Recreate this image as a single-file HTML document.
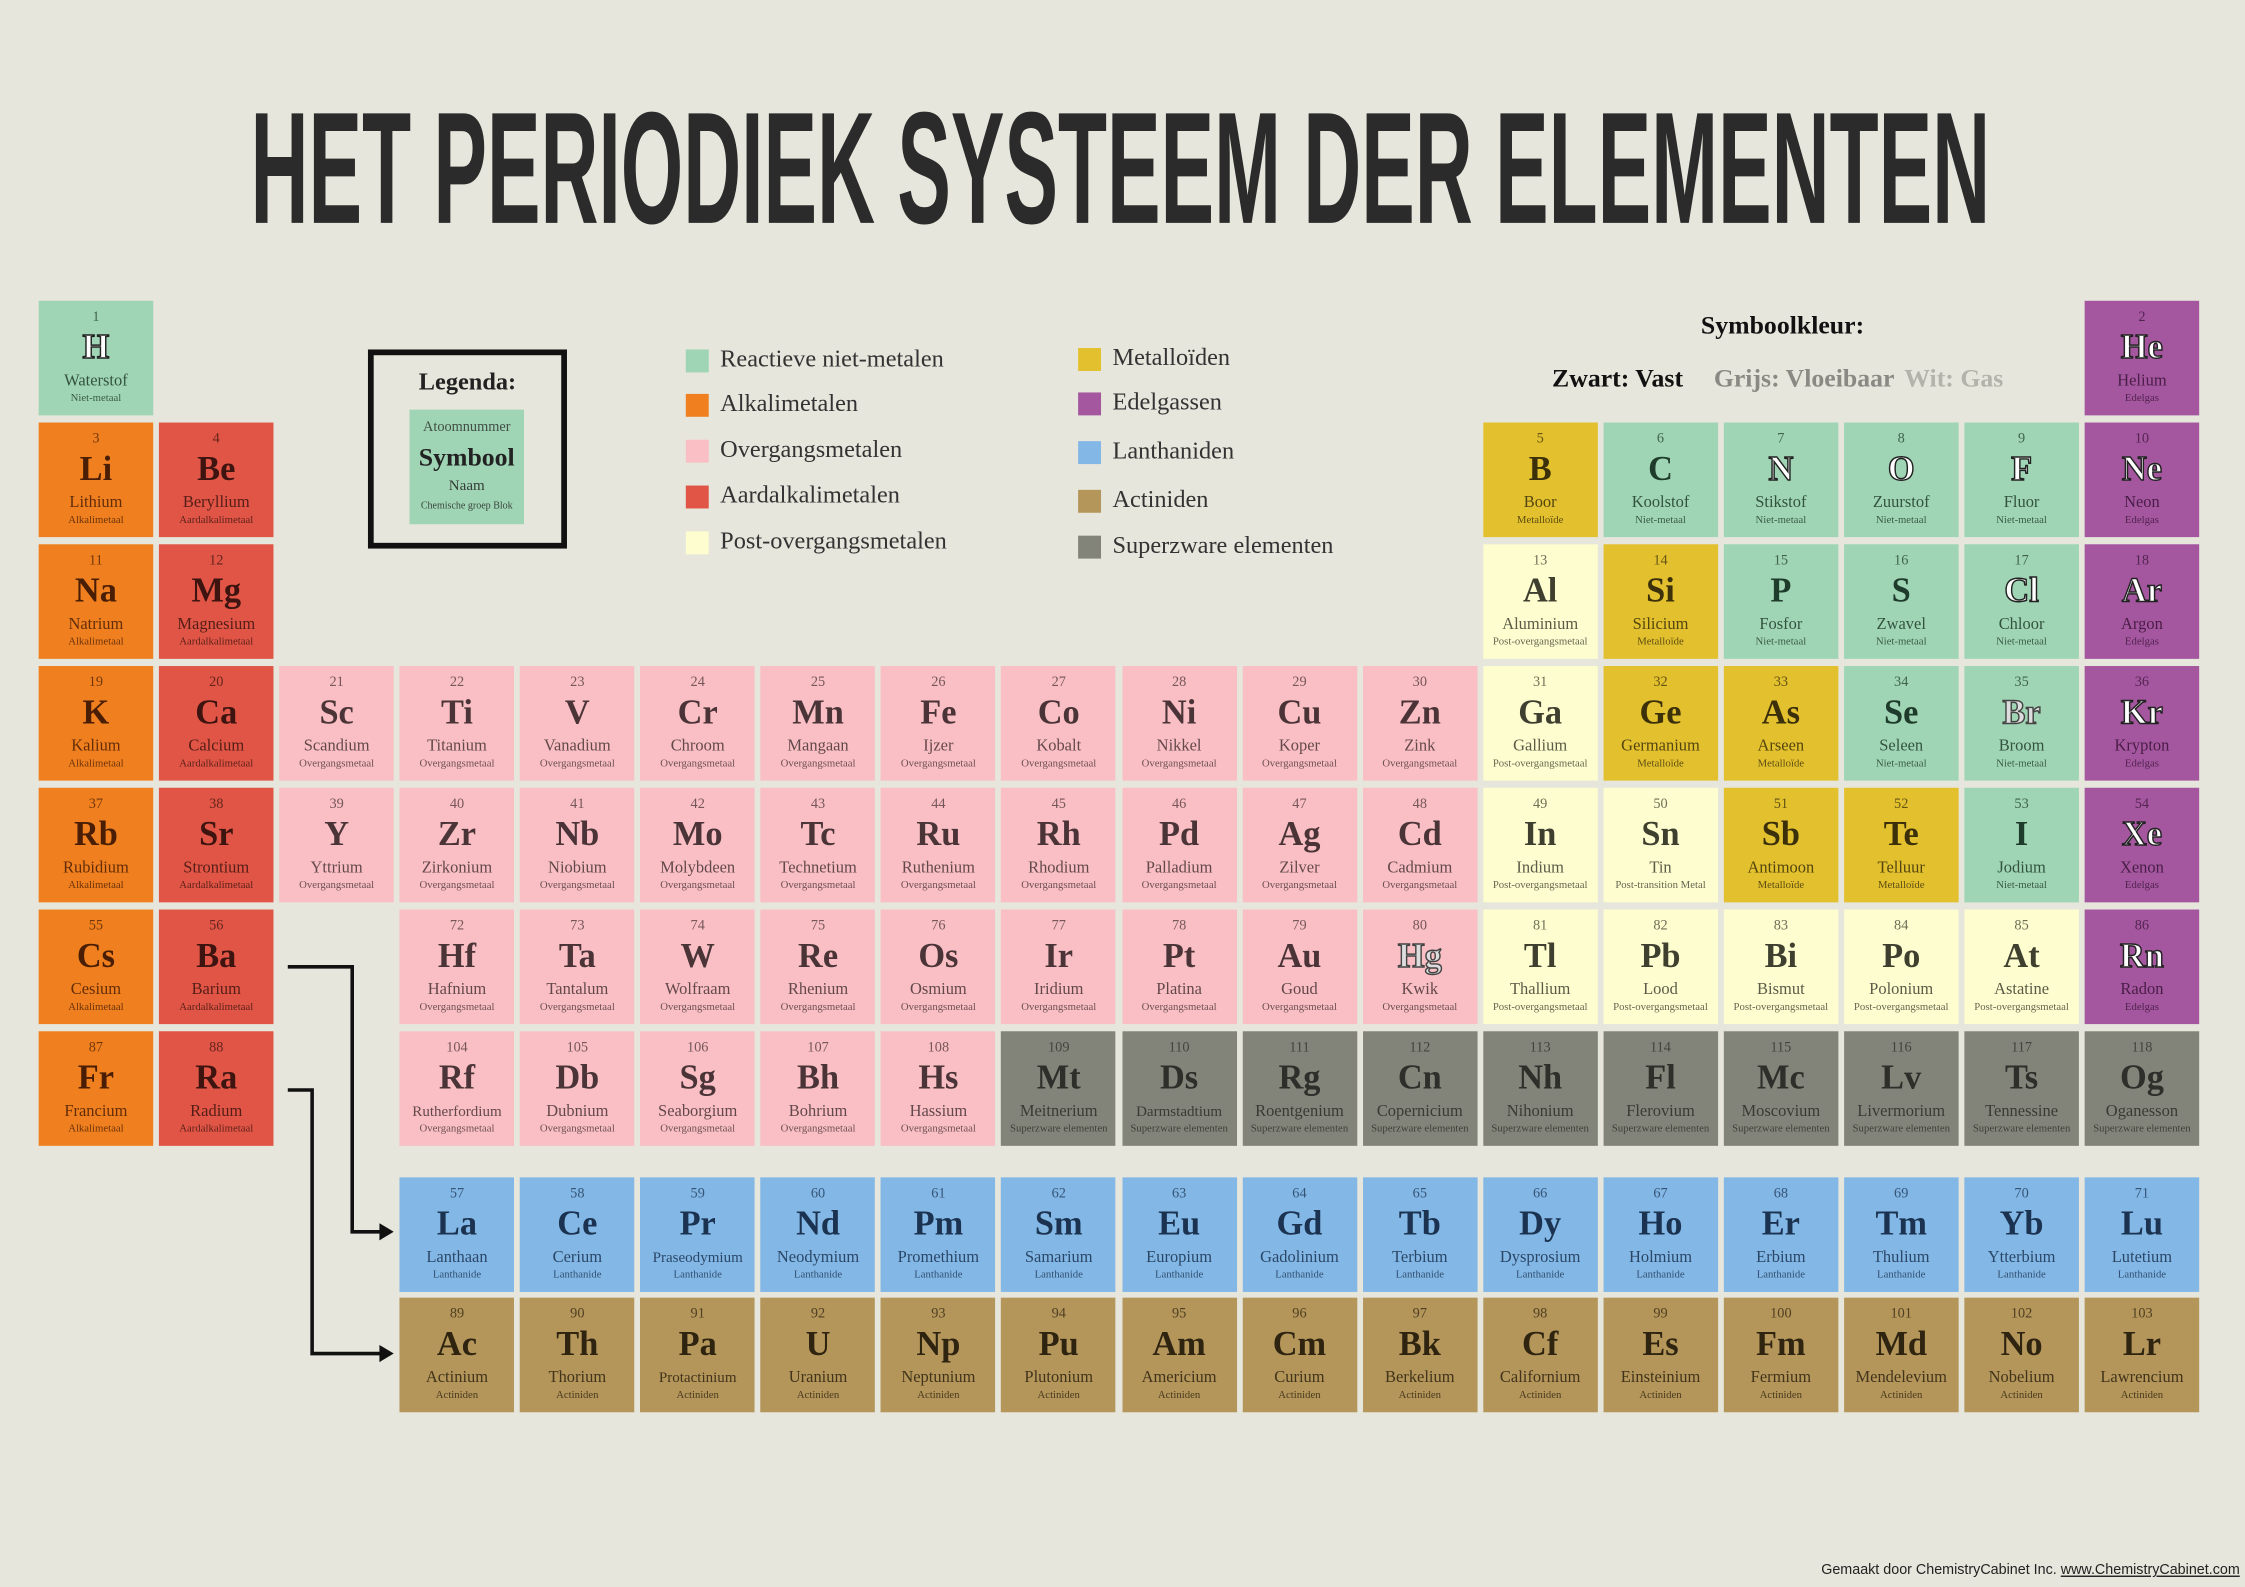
<!DOCTYPE html>
<html><head><meta charset="utf-8">
<style>
html,body{margin:0;padding:0;background:#e6e6dc;}
#root{position:absolute;left:0;top:0;width:1568px;height:1108px;transform-origin:0 0;transform:scale(1.43176,1.43231);background:#e6e6dc;font-family:"Liberation Serif",serif;color:#222;}
.cell{position:absolute;width:80px;height:80px;text-align:center;}
.num{position:absolute;left:0;right:0;top:6px;font-size:10px;opacity:.75;}
.sym{position:absolute;left:0;right:0;top:20px;font-size:24px;font-weight:bold;line-height:26px;}
.nm{position:absolute;left:0;right:0;top:50px;font-size:11.5px;line-height:13px;opacity:.85;white-space:nowrap;}
.gr{position:absolute;left:0;right:0;top:63px;font-size:7.5px;line-height:9px;opacity:.8;white-space:nowrap;}
.gas{color:#fff;-webkit-text-stroke:1px #222;}
.liq{color:#ddd;-webkit-text-stroke:1px #444;}
.leg{position:absolute;font-size:17px;color:#333;}
.sq{position:absolute;width:16px;height:16px;}
</style></head><body>
<div id="root">
<svg style="position:absolute;left:0;top:0" width="1568" height="180">
<text x="175" y="155" textLength="1215" lengthAdjust="spacingAndGlyphs" font-family="Liberation Sans Narrow, Liberation Sans, sans-serif" font-weight="bold" font-size="108" fill="#2b2b2b" transform="translate(0,-4) scale(1,1.03)">HET PERIODIEK SYSTEEM DER ELEMENTEN</text>
</svg>

<div style="position:absolute;left:257px;top:244px;width:131px;height:131px;border:4px solid #111;">
<div style="position:absolute;left:0;right:0;top:9px;text-align:center;font-weight:bold;font-size:17px;">Legenda:</div>
<div class="cell" style="left:25px;top:38px;background:#9fd5b4;">
<div class="num" style="font-size:10px;top:7px">Atoomnummer</div>
<div class="sym" style="font-size:18px;top:20px">Symbool</div>
<div class="nm" style="font-size:10.5px;top:47px">Naam</div>
<div class="gr" style="font-size:7px;top:63px">Chemische groep Blok</div>
</div></div>

<div id="legend"></div>

<div>
<div style="position:absolute;left:1150px;width:190px;top:217px;text-align:center;font-weight:bold;font-size:18px;color:#111;">Symboolkleur:</div>
<div style="position:absolute;left:1084px;top:254px;font-weight:bold;font-size:18px;color:#111;">Zwart: Vast</div>
<div style="position:absolute;left:1197px;top:254px;font-weight:bold;font-size:18px;color:#8a8a84;">Grijs: Vloeibaar</div>
<div style="position:absolute;left:1330px;top:254px;font-weight:bold;font-size:18px;color:#b3b3ab;">Wit: Gas</div>
</div>

<svg style="position:absolute;left:0;top:0" width="1568" height="1108">
<polyline points="201,675 246,675 246,860 266,860" fill="none" stroke="#111" stroke-width="2.5"/>
<polygon points="275,860 265,854 265,866" fill="#111"/>
<polyline points="201,761 218,761 218,945 266,945" fill="none" stroke="#111" stroke-width="2.5"/>
<polygon points="275,945 265,939 265,951" fill="#111"/>
</svg>

<div id="table"></div>

<div style="position:absolute;left:1272px;top:1091px;font-family:'Liberation Sans',sans-serif;font-size:10px;color:#222;">Gemaakt door ChemistryCabinet Inc. <u>www.ChemistryCabinet.com</u></div>
</div>
<script>
const categoryColors={n:"#9fd5b4",a:"#f0801f",e:"#e05545",t:"#f9bfc4",p:"#fdfdcf",m:"#e3c02e",g:"#a4579f",l:"#83b7e6",c:"#b4955a",s:"#838479"};
const categoryGroups={n:"Niet-metaal",a:"Alkalimetaal",e:"Aardalkalimetaal",t:"Overgangsmetaal",p:"Post-overgangsmetaal",m:"Metalloïde",g:"Edelgas",l:"Lanthanide",c:"Actiniden",s:"Superzware elementen"};
const legendLeft=[["n","Reactieve niet-metalen",252],["a","Alkalimetalen",283],["t","Overgangsmetalen",315],["e","Aardalkalimetalen",347],["p","Post-overgangsmetalen",379]];
const legendRight=[["m","Metalloïden",251],["g","Edelgassen",282],["l","Lanthaniden",316],["c","Actiniden",350],["s","Superzware elementen",382]];
// number|symbol|name|category|col|row|state(s/l/g)
const elements=`1|H|Waterstof|n|1|1|g
2|He|Helium|g|18|1|g
3|Li|Lithium|a|1|2|s
4|Be|Beryllium|e|2|2|s
5|B|Boor|m|13|2|s
6|C|Koolstof|n|14|2|s
7|N|Stikstof|n|15|2|g
8|O|Zuurstof|n|16|2|g
9|F|Fluor|n|17|2|g
10|Ne|Neon|g|18|2|g
11|Na|Natrium|a|1|3|s
12|Mg|Magnesium|e|2|3|s
13|Al|Aluminium|p|13|3|s
14|Si|Silicium|m|14|3|s
15|P|Fosfor|n|15|3|s
16|S|Zwavel|n|16|3|s
17|Cl|Chloor|n|17|3|g
18|Ar|Argon|g|18|3|g
19|K|Kalium|a|1|4|s
20|Ca|Calcium|e|2|4|s
21|Sc|Scandium|t|3|4|s
22|Ti|Titanium|t|4|4|s
23|V|Vanadium|t|5|4|s
24|Cr|Chroom|t|6|4|s
25|Mn|Mangaan|t|7|4|s
26|Fe|Ijzer|t|8|4|s
27|Co|Kobalt|t|9|4|s
28|Ni|Nikkel|t|10|4|s
29|Cu|Koper|t|11|4|s
30|Zn|Zink|t|12|4|s
31|Ga|Gallium|p|13|4|s
32|Ge|Germanium|m|14|4|s
33|As|Arseen|m|15|4|s
34|Se|Seleen|n|16|4|s
35|Br|Broom|n|17|4|l
36|Kr|Krypton|g|18|4|g
37|Rb|Rubidium|a|1|5|s
38|Sr|Strontium|e|2|5|s
39|Y|Yttrium|t|3|5|s
40|Zr|Zirkonium|t|4|5|s
41|Nb|Niobium|t|5|5|s
42|Mo|Molybdeen|t|6|5|s
43|Tc|Technetium|t|7|5|s
44|Ru|Ruthenium|t|8|5|s
45|Rh|Rhodium|t|9|5|s
46|Pd|Palladium|t|10|5|s
47|Ag|Zilver|t|11|5|s
48|Cd|Cadmium|t|12|5|s
49|In|Indium|p|13|5|s
50|Sn|Tin|p|14|5|s
51|Sb|Antimoon|m|15|5|s
52|Te|Telluur|m|16|5|s
53|I|Jodium|n|17|5|s
54|Xe|Xenon|g|18|5|g
55|Cs|Cesium|a|1|6|s
56|Ba|Barium|e|2|6|s
72|Hf|Hafnium|t|4|6|s
73|Ta|Tantalum|t|5|6|s
74|W|Wolfraam|t|6|6|s
75|Re|Rhenium|t|7|6|s
76|Os|Osmium|t|8|6|s
77|Ir|Iridium|t|9|6|s
78|Pt|Platina|t|10|6|s
79|Au|Goud|t|11|6|s
80|Hg|Kwik|t|12|6|l
81|Tl|Thallium|p|13|6|s
82|Pb|Lood|p|14|6|s
83|Bi|Bismut|p|15|6|s
84|Po|Polonium|p|16|6|s
85|At|Astatine|p|17|6|s
86|Rn|Radon|g|18|6|g
87|Fr|Francium|a|1|7|s
88|Ra|Radium|e|2|7|s
104|Rf|Rutherfordium|t|4|7|s
105|Db|Dubnium|t|5|7|s
106|Sg|Seaborgium|t|6|7|s
107|Bh|Bohrium|t|7|7|s
108|Hs|Hassium|t|8|7|s
109|Mt|Meitnerium|s|9|7|s
110|Ds|Darmstadtium|s|10|7|s
111|Rg|Roentgenium|s|11|7|s
112|Cn|Copernicium|s|12|7|s
113|Nh|Nihonium|s|13|7|s
114|Fl|Flerovium|s|14|7|s
115|Mc|Moscovium|s|15|7|s
116|Lv|Livermorium|s|16|7|s
117|Ts|Tennessine|s|17|7|s
118|Og|Oganesson|s|18|7|s
57|La|Lanthaan|l|4|8|s
58|Ce|Cerium|l|5|8|s
59|Pr|Praseodymium|l|6|8|s
60|Nd|Neodymium|l|7|8|s
61|Pm|Promethium|l|8|8|s
62|Sm|Samarium|l|9|8|s
63|Eu|Europium|l|10|8|s
64|Gd|Gadolinium|l|11|8|s
65|Tb|Terbium|l|12|8|s
66|Dy|Dysprosium|l|13|8|s
67|Ho|Holmium|l|14|8|s
68|Er|Erbium|l|15|8|s
69|Tm|Thulium|l|16|8|s
70|Yb|Ytterbium|l|17|8|s
71|Lu|Lutetium|l|18|8|s
89|Ac|Actinium|c|4|9|s
90|Th|Thorium|c|5|9|s
91|Pa|Protactinium|c|6|9|s
92|U|Uranium|c|7|9|s
93|Np|Neptunium|c|8|9|s
94|Pu|Plutonium|c|9|9|s
95|Am|Americium|c|10|9|s
96|Cm|Curium|c|11|9|s
97|Bk|Berkelium|c|12|9|s
98|Cf|Californium|c|13|9|s
99|Es|Einsteinium|c|14|9|s
100|Fm|Fermium|c|15|9|s
101|Md|Mendelevium|c|16|9|s
102|No|Nobelium|c|17|9|s
103|Lr|Lawrencium|c|18|9|s`.split("\n").map(l=>l.split("|"));

function xOf(col){return 27+(col-1)*84.06;}
function yOf(row){return row<=7?210+(row-1)*85:(row===8?822:906);}
const txt={a:"#4a1e05",e:"#3d1410",t:"#4a3437",p:"#3f3f30",n:"#1f3b2b",m:"#3b300a",g:"#3a1438",l:"#1b3350",c:"#2e2410",s:"#2e2e2a"};

const table=document.getElementById("table");
elements.forEach(e=>{
  const [num,sym,name,cat,col,row,state]=e;
  const d=document.createElement("div");
  
  
  d.className="cell";
  d.style.left=xOf(+col)+"px";d.style.top=yOf(+row)+"px";
  d.style.background=categoryColors[cat];d.style.color=txt[cat];
  let grp=categoryGroups[cat]; if(num==="50")grp="Post-transition Metal";
  const sc=state==="g"?"sym gas":(state==="l"?"sym liq":"sym");
  d.innerHTML=`<div class="num">${num}</div><div class="${sc}">${sym}</div><div class="nm">${name}</div><div class="gr">${grp}</div>`;
  const nmEl=d.querySelector('.nm'); if(name.length>11) nmEl.style.fontSize="10.5px";
  table.appendChild(d);
});

const legend=document.getElementById("legend");
function addLegend(list,x){
  list.forEach(([k,label,y])=>{
    const s=document.createElement("div");
    
    
    s.className="sq";s.style.left=x+"px";s.style.top=(y-8)+"px";s.style.background=categoryColors[k];
    legend.appendChild(s);
    const t=document.createElement("div");
    
    
    t.className="leg";t.style.left=(x+24)+"px";t.style.top=(y-11)+"px";t.textContent=label;
    legend.appendChild(t);
  });
}
addLegend(legendLeft,479);
addLegend(legendRight,753);
</script>
</body></html>
